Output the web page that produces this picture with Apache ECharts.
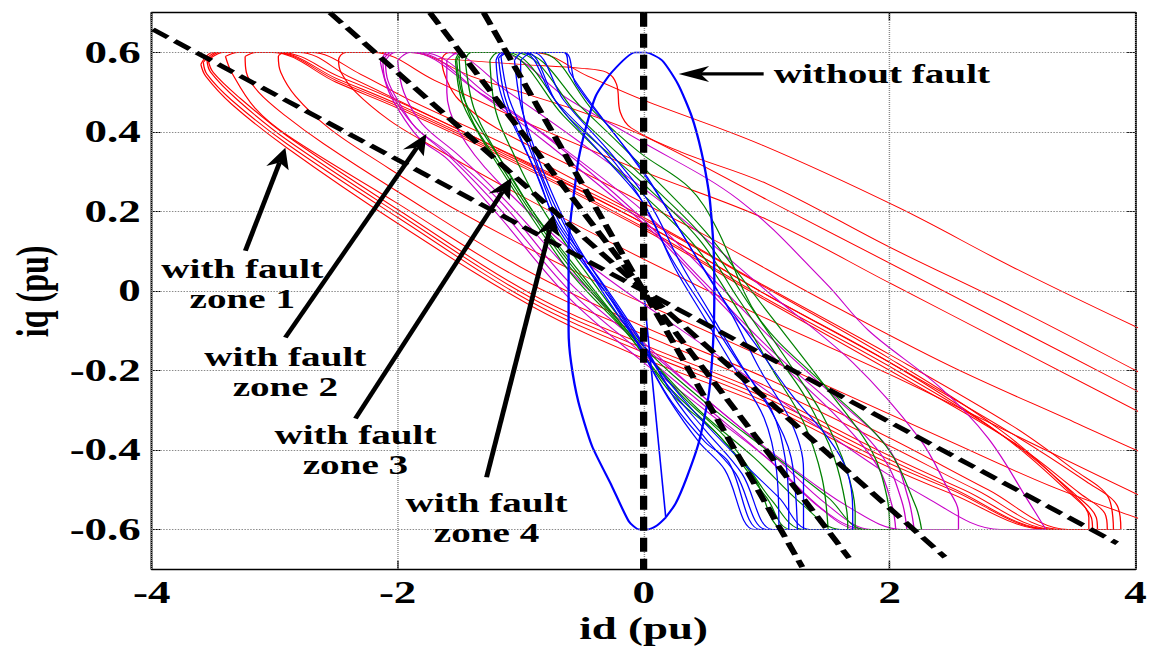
<!DOCTYPE html>
<html>
<head>
<meta charset="utf-8">
<title>id-iq trajectories</title>
<script src="https://cdn.jsdelivr.net/npm/echarts@6/dist/echarts.min.js"></script>
<style>
  html, body { margin: 0; padding: 0; background: #fff; overflow: hidden; }
  #wrap { width: 1154px; height: 649px; overflow: hidden; }
  /* the figure is drawn narrow and widened horizontally, like the exported plot */
  #chart { width: 796px; height: 649px; transform: scaleX(1.44975); transform-origin: 0 0; }
</style>
</head>
<body>
<div id="wrap"><div id="chart"></div></div>
<script>
// ---- axis ticks ----
const xTicks = [-4, -2, 0, 2, 4];
const yTicks = [-0.6, -0.4, -0.2, 0, 0.2, 0.4, 0.6];

// ---- zone 1 fault trajectories (id, iq) ----
const zone1Loops = [
  [[-3.60,0.57],[-3.50,0.60],[-2.95,0.60],[-2.48,0.54],[-2.02,0.48],[-1.26,0.37],[0,0.18],[1.04,0.0],[2.0,-0.17],[2.9,-0.35],[3.45,-0.50],[3.62,-0.57],[3.62,-0.60],[3.28,-0.60],[2.5,-0.51],[1.9,-0.43],[1.0,-0.29],[0,-0.17],[-0.9,-0.04],[-2.0,0.17],[-2.9,0.36],[-3.35,0.47],[-3.56,0.54],[-3.60,0.57]],
  [[-3.58,0.575],[-3.47,0.60],[-2.98,0.60],[-2.50,0.535],[-2.0,0.47],[-1.2,0.355],[0,0.17],[1.0,-0.01],[2.0,-0.18],[2.9,-0.36],[3.45,-0.505],[3.64,-0.57],[3.65,-0.60],[3.30,-0.60],[2.5,-0.50],[1.9,-0.42],[1.0,-0.28],[0,-0.155],[-0.9,-0.03],[-2.0,0.185],[-2.9,0.37],[-3.35,0.48],[-3.55,0.545],[-3.58,0.575]],
  [[-3.55,0.58],[-3.45,0.60],[-3.0,0.60],[-2.5,0.53],[-2.0,0.465],[-1.2,0.35],[0,0.16],[1.0,-0.02],[2.0,-0.19],[2.95,-0.37],[3.5,-0.51],[3.68,-0.57],[3.69,-0.60],[3.32,-0.60],[2.5,-0.495],[1.9,-0.41],[1.0,-0.27],[0,-0.145],[-0.9,-0.02],[-2.0,0.195],[-2.9,0.38],[-3.3,0.48],[-3.52,0.55],[-3.55,0.58]],
  [[-3.54,0.58],[-3.42,0.60],[-3.02,0.60],[-2.5,0.525],[-2.0,0.46],[-1.2,0.345],[0,0.155],[1.0,-0.025],[2.0,-0.20],[3.0,-0.38],[3.55,-0.51],[3.75,-0.56],[3.77,-0.60],[3.35,-0.60],[2.6,-0.50],[1.9,-0.40],[1.0,-0.26],[0,-0.135],[-0.9,-0.01],[-2.0,0.205],[-2.9,0.39],[-3.3,0.49],[-3.5,0.55],[-3.54,0.58]],
  [[-3.40,0.59],[-3.30,0.60],[-2.8,0.60],[-2.4,0.54],[-2.0,0.48],[-1.2,0.36],[0,0.17],[1.0,-0.01],[2.0,-0.18],[3.0,-0.36],[3.6,-0.48],[3.85,-0.54],[3.88,-0.60],[3.4,-0.60],[2.7,-0.50],[2.0,-0.39],[1.0,-0.24],[0,-0.11],[-1.0,0.03],[-2.0,0.22],[-2.89,0.39],[-3.16,0.46],[-3.35,0.55],[-3.40,0.59]],
  [[-3.24,0.59],[-3.15,0.60],[-2.7,0.60],[-2.3,0.545],[-1.9,0.48],[-1.0,0.35],[0,0.185],[1.0,0.01],[2.0,-0.16],[3.0,-0.34],[3.5,-0.45],[3.78,-0.52],[3.82,-0.60],[3.45,-0.60],[2.8,-0.50],[2.0,-0.37],[1.0,-0.22],[0,-0.09],[-1.0,0.06],[-2.0,0.25],[-2.6,0.37],[-2.91,0.44],[-3.13,0.50],[-3.23,0.55],[-3.24,0.59]],
  [[4.3,-0.60],[4.0,-0.57],[3.3,-0.49],[2.5,-0.38],[1.5,-0.24],[0.5,-0.10],[-0.5,0.04],[-1.5,0.20],[-2.18,0.33],[-2.56,0.41],[-2.83,0.49],[-2.95,0.55],[-2.97,0.59],[-2.90,0.60],[-2.2,0.60],[-1.7,0.53],[-1.0,0.43],[0,0.30],[1.0,0.18],[2.0,0.02],[3.0,-0.14],[4.0,-0.30],[4.3,-0.35]],
  [[4.3,-0.55],[4.0,-0.51],[3.0,-0.36],[2.0,-0.21],[1.0,-0.07],[0,0.08],[-1.0,0.24],[-1.81,0.38],[-2.07,0.43],[-2.34,0.50],[-2.46,0.55],[-2.48,0.58],[-2.42,0.60],[-1.9,0.60],[-1.4,0.54],[-1.0,0.50],[-0.5,0.45],[0,0.39],[1.0,0.23],[2.0,0.07],[3.0,-0.09],[4.0,-0.25],[4.3,-0.30]],
  [[4.3,-0.44],[4.0,-0.40],[3.5,-0.33],[2.5,-0.19],[1.5,-0.03],[0.5,0.14],[-0.5,0.30],[-1.2,0.41],[-1.5,0.48],[-1.6,0.53],[-1.64,0.58],[-1.58,0.60],[-0.9,0.60],[-0.45,0.54],[0,0.48],[0.94,0.37],[2.07,0.21],[3.0,0.06],[4.0,-0.09],[4.3,-0.13]],
  [[-1.67,0.585],[-1.0,0.57],[-0.5,0.56],[-0.3,0.55],[-0.22,0.52],[-0.19,0.45],[-0.1,0.41],[0.3,0.35],[1.0,0.27],[2.0,0.11],[3.0,-0.04],[4.0,-0.20],[4.3,-0.25]]
];

// ---- zone 2 fault trajectories ----
const zone2Loops = [
  [[-2.14,0.575],[-2.08,0.60],[-1.89,0.60],[-1.34,0.50],[-0.8,0.39],[-0.04,0.19],[0.5,0.02],[1.04,-0.15],[1.59,-0.30],[1.95,-0.42],[2.10,-0.53],[2.14,-0.60],[1.80,-0.60],[1.5,-0.56],[1.04,-0.43],[0.5,-0.30],[-0.04,-0.17],[-0.6,-0.02],[-1.18,0.19],[-1.59,0.33],[-1.81,0.38],[-1.94,0.43],[-2.07,0.50],[-2.14,0.575]],
  [[-2.12,0.58],[-2.05,0.60],[-1.85,0.60],[-1.3,0.49],[-0.8,0.375],[0,0.17],[0.5,0.01],[1.0,-0.15],[1.55,-0.31],[1.9,-0.44],[2.02,-0.54],[2.05,-0.60],[1.75,-0.60],[1.45,-0.55],[1.0,-0.42],[0.5,-0.29],[0,-0.16],[-0.6,0.0],[-1.15,0.2],[-1.55,0.33],[-1.85,0.41],[-2.0,0.47],[-2.1,0.53],[-2.12,0.58]],
  [[-2.10,0.58],[-2.02,0.60],[-1.8,0.60],[-1.25,0.49],[-0.7,0.37],[0,0.20],[0.5,0.05],[1.04,-0.12],[1.6,-0.28],[2.0,-0.40],[2.15,-0.52],[2.2,-0.60],[1.85,-0.60],[1.5,-0.54],[1.04,-0.41],[0.5,-0.27],[0,-0.14],[-0.6,0.02],[-1.15,0.22],[-1.6,0.35],[-1.85,0.41],[-2.0,0.48],[-2.08,0.53],[-2.10,0.58]],
  [[-2.0,0.58],[-1.9,0.60],[-1.6,0.60],[-1.1,0.50],[-0.5,0.37],[0.2,0.21],[1.0,0.0],[1.7,-0.18],[2.24,-0.37],[2.46,-0.49],[2.56,-0.56],[2.56,-0.60],[2.1,-0.60],[1.7,-0.55],[1.1,-0.42],[0.5,-0.27],[0,-0.13],[-0.6,0.05],[-1.1,0.22],[-1.5,0.34],[-1.8,0.42],[-1.95,0.5],[-2.0,0.58]],
  [[-1.6,0.58],[-1.5,0.60],[-1.2,0.60],[-0.6,0.48],[-0.04,0.38],[0.77,0.23],[1.48,0.02],[1.83,-0.10],[2.4,-0.24],[2.8,-0.37],[3.13,-0.53],[3.27,-0.60],[2.9,-0.60],[2.3,-0.52],[1.5,-0.36],[0.5,-0.14],[-0.5,0.08],[-1.2,0.28],[-1.5,0.40],[-1.6,0.50],[-1.6,0.58]]
];

// ---- zone 3 fault trajectories ----
const zone3Loops = [
  [[-1.53,0.58],[-1.48,0.60],[-1.12,0.60],[-0.59,0.43],[-0.04,0.28],[0.45,0.13],[0.77,-0.02],[1.1,-0.17],[1.32,-0.27],[1.55,-0.42],[1.65,-0.55],[1.66,-0.60],[1.2,-0.60],[1.0,-0.52],[0.63,-0.37],[0.23,-0.26],[-0.1,-0.12],[-0.58,0.04],[-0.9,0.18],[-1.15,0.3],[-1.35,0.40],[-1.48,0.48],[-1.53,0.58]],
  [[-1.50,0.585],[-1.45,0.60],[-1.15,0.60],[-0.65,0.44],[-0.1,0.27],[0.4,0.12],[0.75,-0.04],[1.05,-0.2],[1.3,-0.33],[1.45,-0.47],[1.5,-0.60],[1.15,-0.60],[0.9,-0.47],[0.6,-0.36],[0.2,-0.24],[-0.15,-0.10],[-0.6,0.06],[-0.92,0.2],[-1.17,0.32],[-1.38,0.42],[-1.47,0.5],[-1.50,0.585]],
  [[-1.52,0.58],[-1.46,0.60],[-1.05,0.60],[-0.5,0.43],[0.05,0.27],[0.5,0.13],[0.85,-0.03],[1.2,-0.19],[1.45,-0.31],[1.65,-0.45],[1.72,-0.56],[1.72,-0.60],[1.3,-0.60],[1.05,-0.53],[0.7,-0.38],[0.3,-0.26],[-0.05,-0.13],[-0.55,0.05],[-0.88,0.19],[-1.12,0.31],[-1.33,0.41],[-1.47,0.49],[-1.52,0.58]],
  [[-1.25,0.58],[-1.18,0.60],[-0.85,0.60],[-0.4,0.45],[-0.04,0.35],[0.37,0.26],[0.59,0.16],[0.94,-0.07],[1.48,-0.24],[1.97,-0.39],[2.21,-0.54],[2.26,-0.60],[1.8,-0.60],[1.5,-0.52],[1.0,-0.40],[0.5,-0.28],[0,-0.14],[-0.5,0.06],[-0.85,0.22],[-1.05,0.34],[-1.2,0.45],[-1.25,0.58]],
  [[-1.45,0.58],[-1.4,0.60],[-1.0,0.60],[-0.5,0.46],[0,0.31],[0.5,0.15],[1.0,-0.05],[1.5,-0.25],[1.85,-0.40],[1.98,-0.52],[2.0,-0.60],[1.6,-0.60],[1.3,-0.54],[0.9,-0.42],[0.45,-0.3],[0,-0.15],[-0.5,0.04],[-0.9,0.2],[-1.2,0.35],[-1.38,0.46],[-1.45,0.58]]
];

// ---- zone 4 fault trajectories ----
const zone4Loops = [
  [[-1.20,0.58],[-1.15,0.60],[-0.98,0.60],[-0.72,0.48],[-0.31,0.35],[-0.04,0.24],[0.23,0.08],[0.5,-0.05],[0.77,-0.18],[1.04,-0.30],[1.15,-0.42],[1.18,-0.55],[1.18,-0.60],[0.95,-0.60],[0.69,-0.43],[0.5,-0.38],[0.23,-0.28],[0.02,-0.17],[-0.2,-0.05],[-0.47,0.06],[-0.7,0.16],[-0.85,0.28],[-1.0,0.38],[-1.12,0.46],[-1.18,0.52],[-1.20,0.58]],
  [[-1.18,0.585],[-1.12,0.60],[-0.95,0.60],[-0.70,0.47],[-0.30,0.33],[0,0.22],[0.25,0.06],[0.5,-0.07],[0.75,-0.2],[0.98,-0.32],[1.08,-0.45],[1.1,-0.60],[0.9,-0.60],[0.66,-0.45],[0.45,-0.38],[0.2,-0.27],[0,-0.16],[-0.25,-0.03],[-0.5,0.08],[-0.72,0.18],[-0.88,0.3],[-1.02,0.4],[-1.13,0.49],[-1.18,0.585]],
  [[-1.16,0.59],[-1.1,0.60],[-0.9,0.60],[-0.65,0.48],[-0.25,0.34],[0.05,0.22],[0.3,0.07],[0.55,-0.06],[0.8,-0.19],[1.05,-0.31],[1.2,-0.42],[1.25,-0.60],[1.0,-0.60],[0.75,-0.46],[0.5,-0.37],[0.25,-0.27],[0.05,-0.16],[-0.2,-0.04],[-0.45,0.07],[-0.68,0.17],[-0.84,0.29],[-0.98,0.4],[-1.1,0.49],[-1.16,0.59]],
  [[-1.05,0.58],[-0.98,0.60],[-0.65,0.60],[-0.55,0.52],[-0.2,0.38],[0.1,0.25],[0.4,0.1],[0.7,-0.05],[0.95,-0.2],[1.2,-0.33],[1.3,-0.45],[1.3,-0.60],[1.05,-0.60],[0.8,-0.46],[0.5,-0.35],[0.2,-0.24],[0,-0.14],[-0.3,0.0],[-0.55,0.12],[-0.75,0.25],[-0.9,0.37],[-1.0,0.47],[-1.05,0.58]],
  [[-1.0,0.58],[-0.9,0.60],[-0.65,0.60],[-0.6,0.55],[-0.3,0.42],[0,0.3],[0.3,0.15],[0.6,0.0],[0.9,-0.13],[1.2,-0.26],[1.5,-0.37],[1.65,-0.45],[1.7,-0.55],[1.7,-0.60],[1.35,-0.60],[1.1,-0.52],[0.8,-0.43],[0.4,-0.3],[0,-0.15],[-0.4,0.03],[-0.7,0.2],[-0.9,0.35],[-0.98,0.45],[-1.0,0.58]]
];

// ---- healthy (no fault) trajectory: start-up ramp from the origin, then the steady orbit ----
const healthyStart = [[0,0],[0.18,-0.57]];
const healthyLoop = [[0.18,-0.57],[0.26,-0.535],[0.35,-0.47],[0.45,-0.38],[0.53,-0.26],[0.565,-0.13],[0.575,0.0],[0.57,0.10],[0.55,0.19],[0.53,0.25],[0.47,0.35],[0.39,0.44],[0.28,0.52],[0.15,0.58],[0.02,0.60],[-0.07,0.60],[-0.26,0.55],[-0.39,0.49],[-0.47,0.41],[-0.53,0.33],[-0.56,0.26],[-0.59,0.19],[-0.61,0.11],[-0.61,0.0],[-0.61,-0.10],[-0.59,-0.18],[-0.53,-0.28],[-0.42,-0.39],[-0.26,-0.49],[-0.12,-0.58],[-0.04,-0.60],[0.04,-0.60],[0.11,-0.59],[0.18,-0.57]];

// ---- zone boundary lines through the origin ----
const boundaryLines = [
  [[0,0.7],[0,-0.7]],
  [[-3.99,0.658],[3.85,-0.635]],
  [[-2.55,0.70],[2.45,-0.67]],
  [[-1.737,0.70],[1.67,-0.672]],
  [[-1.30,0.70],[1.29,-0.695]]
];

// ---- annotation texts and arrows (in id/iq units) ----
const noteTexts = ['without fault', 'with fault\nzone 1', 'with fault\nzone 2', 'with fault\nzone 3', 'with fault\nzone 4'];
const noteAnchors = [[1.058,0.546],[-3.263,0.018],[-2.913,-0.203],[-2.343,-0.401],[-1.277,-0.570]];
const arrowTails = [[0.976,0.546],[-3.238,0.101],[-2.913,-0.117],[-2.343,-0.321],[-1.277,-0.469]];
const arrowTips  = [[0.285,0.546],[-2.913,0.360],[-1.766,0.395],[-1.074,0.285],[-0.732,0.192]];

const FONT = '"Liberation Serif", "Times New Roman", serif';
const GRID = { left: 104.6, top: 12.7, width: 678.7, height: 557.3 };
const chart = echarts.init(document.getElementById('chart'), null, { renderer: 'svg' });

function loopSeries(loops, color, width, smooth) {
  return loops.map(d => ({
    type: 'line', data: d, smooth: smooth, symbol: 'none', silent: true,
    lineStyle: { color: color, width: width }, z: 2
  }));
}

const boxAxisLine = { show: true, onZero: false, lineStyle: { color: '#000', width: 1.3 } };
const labelStyle = { color: '#000', fontSize: 31, fontWeight: 'bold', fontFamily: FONT };

const series = [
  {
    type: 'line', data: [], silent: true,
    markLine: {
      silent: true, symbol: 'none', label: { show: false }, animation: false,
      lineStyle: { type: 'dotted', color: '#8a8a8a', width: 1 },
      data: yTicks.map(v => ({ yAxis: v })).concat(xTicks.map(v => ({ xAxis: v })))
    }
  }
]
  .concat(loopSeries(zone1Loops, '#ff0000', 0.9, 0.35))
  .concat(loopSeries(zone2Loops, '#c800c8', 0.9, 0.35))
  .concat(loopSeries(zone3Loops, '#008000', 0.9, 0.35))
  .concat(loopSeries(zone4Loops, '#0000ff', 0.9, 0.35))
  .concat(loopSeries([healthyStart], '#0000ff', 1.1, false))
  .concat(loopSeries([healthyLoop], '#0000ff', 1.6, 0.2))
  .concat(boundaryLines.map((d, i) => ({
    type: 'line', data: d, symbol: 'none', silent: true, z: 5,
    lineStyle: { color: '#000', width: i === 0 ? 5 : 4.3, type: i === 0 ? [14, 7] : [13, 6], cap: 'butt' }
  })));

chart.setOption({
  animation: false,
  backgroundColor: '#fff',
  grid: Object.assign({ containLabel: false }, GRID),
  xAxis: [
    {
      type: 'value', min: -4, max: 4, interval: 2, position: 'bottom',
      axisLine: boxAxisLine,
      axisTick: { show: true, inside: true, length: 8, lineStyle: { color: '#000', width: 1 } },
      axisLabel: Object.assign({ margin: 8 }, labelStyle),
      splitLine: { show: false },
      name: 'id (pu)', nameLocation: 'middle', nameGap: 41,
      nameTextStyle: { color: '#000', fontSize: 31, fontWeight: 'bold', fontFamily: FONT }
    },
    {
      type: 'value', min: -4, max: 4, interval: 2, position: 'top',
      axisLine: boxAxisLine,
      axisTick: { show: true, inside: true, length: 8, lineStyle: { color: '#000', width: 1 } },
      axisLabel: { show: false }, splitLine: { show: false }
    }
  ],
  yAxis: [
    {
      type: 'value', min: -0.7, max: 0.7, position: 'left',
      axisLine: boxAxisLine,
      axisTick: { show: true, inside: true, length: 6, customValues: yTicks, lineStyle: { color: '#000', width: 1 } },
      axisLabel: Object.assign({ margin: 7.5, customValues: yTicks }, labelStyle),
      splitLine: { show: false }
    },
    {
      type: 'value', min: -0.7, max: 0.7, position: 'right',
      axisLine: boxAxisLine,
      axisTick: { show: true, inside: true, length: 6, customValues: yTicks, lineStyle: { color: '#000', width: 1 } },
      axisLabel: { show: false }, splitLine: { show: false }
    }
  ],
  series: series
});

// annotations placed through the axes' own scales
const toPx = p => chart.convertToPixel({ xAxisIndex: 0, yAxisIndex: 0 }, p);
const graphics = [
  {
    // vertical axis title
    type: 'text', z: 20, silent: true, rotation: Math.PI / 2,
    x: GRID.left - 82.5, y: GRID.top + GRID.height / 2,
    style: {
      text: 'iq (pu)', x: 0, y: 0, fill: '#000', font: 'bold 32px ' + FONT,
      align: 'center', verticalAlign: 'middle', textAlign: 'center', textVerticalAlign: 'middle'
    }
  }
];
noteTexts.forEach((t, i) => {
  const a = toPx(noteAnchors[i]);
  graphics.push({
    type: 'text', z: 20, silent: true,
    style: {
      text: t, x: a[0], y: a[1], fill: '#000',
      font: 'bold 27px ' + FONT, lineHeight: 30,
      align: i === 0 ? 'left' : 'center', verticalAlign: 'middle',
      textAlign: i === 0 ? 'left' : 'center', textVerticalAlign: 'middle'
    }
  });
  const s = toPx(arrowTails[i]);
  const e = toPx(arrowTips[i]);
  const dx = e[0] - s[0], dy = e[1] - s[1];
  const len = Math.hypot(dx, dy);
  const ux = dx / len, uy = dy / len, px = -uy, py = ux;
  const L = 21, W = 16;
  const notch = [e[0] - ux * L * 0.72, e[1] - uy * L * 0.72];
  graphics.push({
    type: 'line', z: 20, silent: true,
    shape: { x1: s[0], y1: s[1], x2: notch[0], y2: notch[1] },
    style: { stroke: '#000', lineWidth: 3.4 }
  });
  graphics.push({
    type: 'polygon', z: 20, silent: true,
    shape: { points: [
      [e[0], e[1]],
      [e[0] - ux * L + px * W / 2, e[1] - uy * L + py * W / 2],
      notch,
      [e[0] - ux * L - px * W / 2, e[1] - uy * L - py * W / 2]
    ] },
    style: { fill: '#000' }
  });
});
chart.setOption({ graphic: graphics });
</script>
</body>
</html>
